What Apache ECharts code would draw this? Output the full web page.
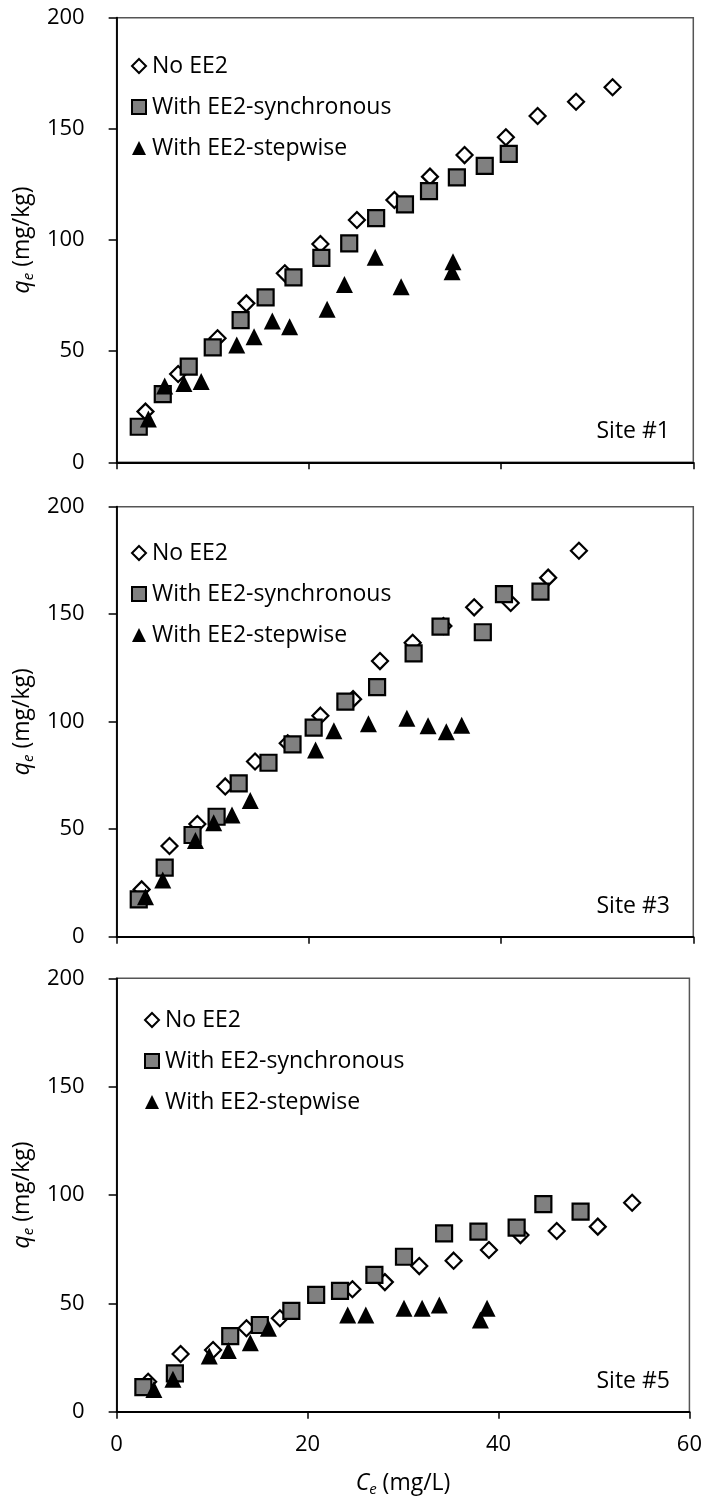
<!DOCTYPE html>
<html>
<head>
<meta charset="utf-8">
<script src="https://cdn.jsdelivr.net/npm/echarts@6/dist/echarts.min.js"></script>
<style>
html,body{margin:0;padding:0;background:#fff;}
#chart{width:705px;height:1502px;}
</style>
</head>
<body>
<div id="chart"></div>
<script>
// ---------- Data ----------
const seriesNames = ['No EE2', 'With EE2-synchronous', 'With EE2-stepwise'];
const siteLabels = ['Site #1', 'Site #3', 'Site #5'];
const xTicks = [0, 20, 40, 60];
const yTicks = [0, 50, 100, 150, 200];

// Site #1
const s1NoX   = [3.0, 6.4, 10.5, 13.5, 17.5, 21.2, 25.0, 28.9, 32.6, 36.2, 40.5, 43.8, 47.8, 51.6];
const s1NoY   = [22.8, 39.7, 55.8, 71.5, 85.0, 98.2, 109.0, 118.0, 128.5, 138.2, 146.2, 155.8, 162.2, 168.7];
const s1SynX  = [2.3, 4.8, 7.5, 10.0, 12.9, 15.5, 18.4, 21.3, 24.2, 27.0, 30.0, 32.5, 35.4, 38.3, 40.8];
const s1SynY  = [16.0, 30.7, 43.0, 51.7, 64.0, 74.2, 83.2, 92.0, 98.5, 109.8, 116.0, 122.0, 128.2, 133.3, 138.7];
const s1StepX = [3.3, 5.0, 7.0, 8.8, 12.5, 14.3, 16.2, 18.0, 21.9, 23.7, 26.9, 29.6, 35.0, 34.9];
const s1StepY = [19.5, 34.3, 35.5, 36.3, 52.8, 56.5, 63.6, 61.0, 68.8, 80.0, 92.2, 79.0, 90.2, 85.7];

// Site #3
const s3NoX   = [2.6, 5.5, 8.4, 11.3, 14.4, 17.8, 21.2, 24.6, 27.4, 30.8, 34.0, 37.2, 41.0, 44.9, 48.1];
const s3NoY   = [22.0, 42.2, 52.4, 69.9, 81.5, 90.0, 102.8, 110.5, 128.2, 136.7, 144.5, 153.2, 155.2, 167.0, 179.5];
const s3SynX  = [2.3, 5.0, 7.9, 10.4, 12.7, 15.8, 18.3, 20.5, 23.8, 27.1, 30.9, 33.7, 38.1, 40.3, 44.1];
const s3SynY  = [17.4, 32.1, 47.3, 55.8, 71.3, 80.9, 89.5, 97.2, 109.3, 116.1, 131.8, 144.2, 141.6, 159.3, 160.5];
const s3StepX = [3.0, 4.8, 8.2, 10.1, 12.0, 13.9, 20.7, 22.6, 26.2, 30.2, 32.4, 34.3, 35.9];
const s3StepY = [18.6, 26.4, 44.7, 53.0, 56.6, 63.3, 86.8, 95.8, 99.1, 101.6, 98.1, 95.3, 98.4];

// Site #5
const s5NoX   = [3.3, 6.7, 10.1, 13.6, 17.1, 24.7, 28.1, 31.7, 35.3, 39.0, 42.3, 46.1, 50.4, 54.0];
const s5NoY   = [13.8, 26.6, 28.5, 38.5, 43.1, 56.5, 59.8, 67.2, 69.7, 74.6, 81.5, 83.4, 85.4, 96.4];
const s5SynX  = [2.8, 6.1, 11.9, 15.0, 18.3, 20.9, 23.4, 27.0, 30.1, 34.3, 37.9, 41.9, 44.7, 48.6];
const s5SynY  = [11.3, 17.7, 34.9, 40.0, 46.5, 53.9, 55.8, 63.1, 71.5, 82.3, 83.1, 84.9, 95.8, 92.3];
const s5StepX = [3.9, 5.9, 9.7, 11.7, 14.0, 15.9, 24.2, 26.1, 30.1, 32.0, 33.8, 38.1, 38.8];
const s5StepY = [10.3, 15.0, 25.7, 28.2, 31.8, 38.5, 44.6, 44.6, 47.7, 47.7, 49.2, 42.3, 47.7];

// ---------- Build chart ----------
const FONT = '"Open Sans", "Liberation Sans", sans-serif';
const zip = (xs, ys) => xs.map((x, i) => [x, ys[i]]);
const panels = [
  [zip(s1NoX, s1NoY), zip(s1SynX, s1SynY), zip(s1StepX, s1StepY)],
  [zip(s3NoX, s3NoY), zip(s3SynX, s3SynY), zip(s3StepX, s3StepY)],
  [zip(s5NoX, s5NoY), zip(s5SynX, s5SynY), zip(s5StepX, s5StepY)]
];

const gridBoxes = [
  {top: 17.7, height: 444.6},
  {top: 506.7, height: 430},
  {top: 978.3, height: 433.4}
];
const legendPos = [
  {left: 126, top: 49},
  {left: 126, top: 536},
  {left: 139, top: 1003}
];

const styles = [
  {symbol: 'diamond', symbolSize: 16, itemStyle: {color: '#ffffff', borderColor: '#000', borderWidth: 2.2, opacity: 1}},
  {symbol: 'rect', symbolSize: 16, itemStyle: {color: '#808080', borderColor: '#000', borderWidth: 2.2, opacity: 1}},
  {symbol: 'triangle', symbolSize: 17, itemStyle: {color: '#000', borderWidth: 0, opacity: 1}}
];

const grid = [], xAxis = [], yAxis = [], series = [], legend = [], graphic = [];

gridBoxes.forEach((g, p) => {
  grid.push({left: 114, right: 11.7, top: g.top, height: g.height, show: true,
    borderColor: '#555', borderWidth: 1.5, backgroundColor: 'transparent'});
  const last = p === 2;
  xAxis.push({
    type: 'value', gridIndex: p, min: xTicks[0], max: xTicks[xTicks.length - 1], interval: 20,
    axisLine: {show: true, onZero: false, lineStyle: {color: '#000', width: 1.8}},
    axisTick: {show: true, inside: false, length: 7, lineStyle: {color: '#000', width: 1.5}},
    splitLine: {show: false},
    axisLabel: {show: last, fontSize: 22, fontFamily: FONT, color: '#000', margin: 22},
    name: last ? '{it|C}{sub|e} (mg/L)' : '',
    nameLocation: 'middle', nameGap: 58,
    nameTextStyle: {fontSize: 23, fontFamily: FONT, color: '#000', lineHeight: 28,
      rich: {it: {fontStyle: 'italic', fontSize: 23, fontFamily: FONT, lineHeight: 28},
             sub: {fontStyle: 'italic', fontSize: 15, fontFamily: FONT, verticalAlign: 'bottom', lineHeight: 15}}}
  });
  yAxis.push({
    type: 'value', gridIndex: p, min: yTicks[0], max: yTicks[yTicks.length - 1], interval: 50,
    axisLine: {show: true, onZero: false, lineStyle: {color: '#000', width: 1.8}},
    axisTick: {show: true, inside: false, length: 8, lineStyle: {color: '#000', width: 1.5}},
    splitLine: {show: false},
    axisLabel: {fontSize: 22, fontFamily: FONT, color: '#000', margin: 32},
    name: '{it|q}{sub|e} (mg/kg)',
    nameLocation: 'middle', nameGap: 78, nameRotate: 90,
    nameTextStyle: {fontSize: 23, fontFamily: FONT, color: '#000', lineHeight: 28,
      rich: {it: {fontStyle: 'italic', fontSize: 23, fontFamily: FONT, lineHeight: 28},
             sub: {fontStyle: 'italic', fontSize: 15, fontFamily: FONT, verticalAlign: 'bottom', lineHeight: 15}}}
  });
  panels[p].forEach((data, s) => {
    series.push(Object.assign({
      type: 'scatter', name: seriesNames[s], xAxisIndex: p, yAxisIndex: p,
      data: data, z: 2 + s, emphasis: {disabled: true}, silent: true
    }, JSON.parse(JSON.stringify(styles[s]))));
  });
  legend.push({
    orient: 'vertical', left: legendPos[p].left, top: legendPos[p].top,
    itemWidth: 14, itemHeight: 14, itemGap: 17, selectedMode: false,
    data: seriesNames,
    textStyle: {fontSize: 23, fontFamily: FONT, color: '#000', lineHeight: 24, padding: [0, 0, 0, 1]}
  });
  graphic.push({
    type: 'text', right: 35, top: g.top + g.height - 42,
    style: {text: siteLabels[p], fontSize: 23, fontFamily: FONT, fill: '#000'}
  });
});

const chart = echarts.init(document.getElementById('chart'), null, {renderer: 'canvas'});
chart.setOption({
  animation: false,
  backgroundColor: '#fff',
  textStyle: {fontFamily: FONT},
  grid, xAxis, yAxis, series, legend, graphic
});
</script>
</body>
</html>
